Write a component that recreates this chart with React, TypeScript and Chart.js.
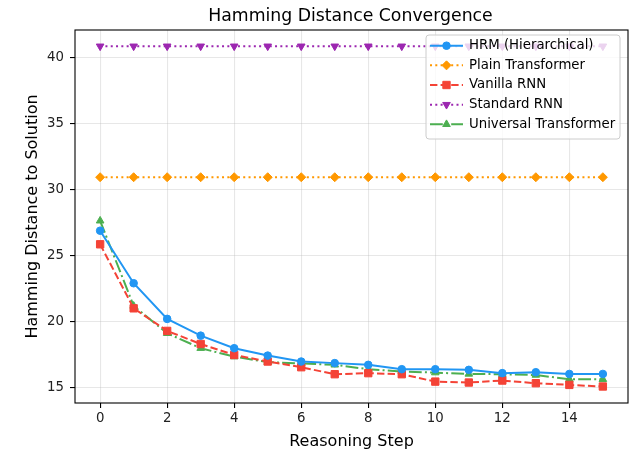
import React, { useEffect, useRef } from 'react';
import { Chart, registerables } from 'chart.js';
import { drawPoint } from 'chart.js/helpers';

Chart.register(...registerables);

const steps = [0, 1, 2, 3, 4, 5, 6, 7, 8, 9, 10, 11, 12, 13, 14, 15];
const hrm = [26.85, 22.87, 20.17, 18.9, 17.95, 17.39, 16.94, 16.82, 16.69, 16.36, 16.36, 16.31, 16.06, 16.13, 16.0, 16.0];
const plainTransformer = [30.9, 30.9, 30.9, 30.9, 30.9, 30.9, 30.9, 30.9, 30.9, 30.9, 30.9, 30.9, 30.9, 30.9, 30.9, 30.9];
const vanillaRnn = [25.82, 20.97, 19.26, 18.27, 17.44, 16.94, 16.51, 15.98, 16.06, 15.98, 15.42, 15.35, 15.5, 15.3, 15.17, 15.05];
const standardRnn = [40.82, 40.82, 40.82, 40.82, 40.82, 40.82, 40.82, 40.82, 40.82, 40.82, 40.82, 40.82, 40.82, 40.82, 40.82, 40.82];
const universalTransformer = [27.6, 21.15, 19.08, 17.95, 17.31, 16.9, 16.8, 16.69, 16.36, 16.18, 16.1, 16.0, 15.98, 15.92, 15.6, 15.6];

const xTickValues = [0, 2, 4, 6, 8, 10, 12, 14];
const yTickValues = [15, 20, 25, 30, 35, 40];

const titleText = 'Hamming Distance Convergence';
const xLabel = 'Reasoning Step';
const yLabel = 'Hamming Distance to Solution';

const FONT = 'DejaVu Sans';

type SeriesDef = {
  label: string;
  data: number[];
  color: string;
  dash: number[];
  pointStyle: string;
  rotation: number;
  radius: number;
};

const series: SeriesDef[] = [
  { label: 'HRM (Hierarchical)', data: hrm, color: '#2196F3', dash: [], pointStyle: 'circle', rotation: 0, radius: 3.8 },
  { label: 'Plain Transformer', data: plainTransformer, color: '#FF9800', dash: [2, 3.3], pointStyle: 'rectRot', rotation: 0, radius: 4.5 },
  { label: 'Vanilla RNN', data: vanillaRnn, color: '#F44336', dash: [7.4, 3.2], pointStyle: 'rect', rotation: 0, radius: 5.2 },
  { label: 'Standard RNN', data: standardRnn, color: '#9C27B0', dash: [2, 3.3], pointStyle: 'triangle', rotation: 180, radius: 4.4 },
  { label: 'Universal Transformer', data: universalTransformer, color: '#4CAF50', dash: [12.8, 3.2, 2, 3.2], pointStyle: 'triangle', rotation: 0, radius: 4.4 },
];

const decorPlugin = {
  id: 'decor',
  afterDatasetsDraw(chart: any) {
    const { ctx, chartArea } = chart;
    const { left, right, top, bottom } = chartArea;
    ctx.save();
    ctx.strokeStyle = '#000';
    ctx.lineWidth = 1.1;
    ctx.setLineDash([]);
    ctx.strokeRect(left, top, right - left, bottom - top);
    ctx.restore();
  },
  afterDraw(chart: any) {
    const { ctx, chartArea } = chart;
    const { left, right, top, bottom } = chartArea;
    const cx = (left + right) / 2;
    ctx.save();
    ctx.fillStyle = '#000';
    ctx.textAlign = 'center';
    ctx.textBaseline = 'alphabetic';
    ctx.font = `17.3px "${FONT}"`;
    ctx.fillText(titleText, cx - 1, 20.5);
    ctx.font = `16px "${FONT}"`;
    ctx.fillText(xLabel, cx, 446);
    ctx.save();
    ctx.translate(37, (top + bottom) / 2);
    ctx.rotate(-Math.PI / 2);
    ctx.fillText(yLabel, 0, 0);
    ctx.restore();

    // legend
    const bx = 426, by = 35, bw = 194, bh = 104, r = 3;
    ctx.beginPath();
    ctx.moveTo(bx + r, by);
    ctx.lineTo(bx + bw - r, by);
    ctx.arcTo(bx + bw, by, bx + bw, by + r, r);
    ctx.lineTo(bx + bw, by + bh - r);
    ctx.arcTo(bx + bw, by + bh, bx + bw - r, by + bh, r);
    ctx.lineTo(bx + r, by + bh);
    ctx.arcTo(bx, by + bh, bx, by + bh - r, r);
    ctx.lineTo(bx, by + r);
    ctx.arcTo(bx, by, bx + r, by, r);
    ctx.closePath();
    ctx.fillStyle = 'rgba(255,255,255,0.8)';
    ctx.fill();
    ctx.strokeStyle = '#cccccc';
    ctx.lineWidth = 1;
    ctx.stroke();

    series.forEach((s, i) => {
      const y = 45.7 + i * 19.65;
      ctx.save();
      ctx.strokeStyle = s.color;
      ctx.lineWidth = 2;
      ctx.setLineDash(s.dash);
      ctx.beginPath();
      ctx.moveTo(430, y);
      ctx.lineTo(463, y);
      ctx.stroke();
      ctx.setLineDash([]);
      ctx.fillStyle = s.color;
      ctx.strokeStyle = s.color;
      ctx.lineWidth = 1;
      drawPoint(ctx, { pointStyle: s.pointStyle, rotation: s.rotation, radius: s.radius, borderWidth: 1 } as any, 446.5, y);
      ctx.restore();
      ctx.fillStyle = '#000';
      ctx.textAlign = 'left';
      ctx.textBaseline = 'middle';
      ctx.font = `13.3px "${FONT}"`;
      ctx.fillText(s.label, 469, y);
    });
    ctx.restore();
  },
};

export default function App() {
  const canvasRef = useRef<HTMLCanvasElement | null>(null);

  useEffect(() => {
    const canvas = canvasRef.current;
    if (!canvas) return;
    const tickFont = { family: FONT, size: 13.3 };
    const chart = new Chart(canvas, {
      type: 'line',
      data: {
        labels: steps,
        datasets: series.map((s) => ({
          label: s.label,
          data: s.data.map((v, i) => ({ x: steps[i], y: v })),
          borderColor: s.color,
          backgroundColor: s.color,
          borderWidth: 2,
          borderDash: s.dash,
          pointStyle: s.pointStyle as any,
          rotation: s.rotation,
          pointRadius: s.radius,
          pointBorderWidth: 1,
          pointBorderColor: s.color,
          pointBackgroundColor: s.color,
          tension: 0,
          fill: false,
        })),
      },
      options: {
        responsive: false,
        animation: false,
        events: [],
        layout: { padding: { top: 30, right: 9, left: 0, bottom: 0 } },
        plugins: {
          legend: { display: false },
          title: { display: false },
          tooltip: { enabled: false },
        },
        scales: {
          x: {
            type: 'linear',
            min: -0.75,
            max: 15.75,
            afterBuildTicks: (s: any) => {
              s.ticks = xTickValues.map((v) => ({ value: v }));
            },
            afterFit: (s: any) => {
              s.height = 49;
            },
            grid: { color: 'rgba(176,176,176,0.3)', tickColor: '#000', tickLength: 5, lineWidth: 1.1 },
            border: { display: false },
            ticks: { font: tickFont, color: '#222', padding: 3, maxRotation: 0, autoSkip: false, callback: (v: any) => String(v) },
          },
          y: {
            type: 'linear',
            min: 13.8,
            max: 42.05,
            afterBuildTicks: (s: any) => {
              s.ticks = yTickValues.map((v) => ({ value: v }));
            },
            afterFit: (s: any) => {
              s.width = 75;
            },
            grid: { color: 'rgba(176,176,176,0.3)', tickColor: '#000', tickLength: 5, lineWidth: 1.1 },
            border: { display: false },
            ticks: { font: tickFont, color: '#222', padding: 6, autoSkip: false, callback: (v: any) => String(v) },
          },
        },
      },
      plugins: [decorPlugin],
    });
    return () => chart.destroy();
  }, []);

  return (
    <div style={{ position: 'absolute', left: 0, top: 0, width: 637, height: 452, background: '#fff' }}>
      <canvas ref={canvasRef} width={637} height={452} style={{ display: 'block', width: 637, height: 452 }} />
    </div>
  );
}
